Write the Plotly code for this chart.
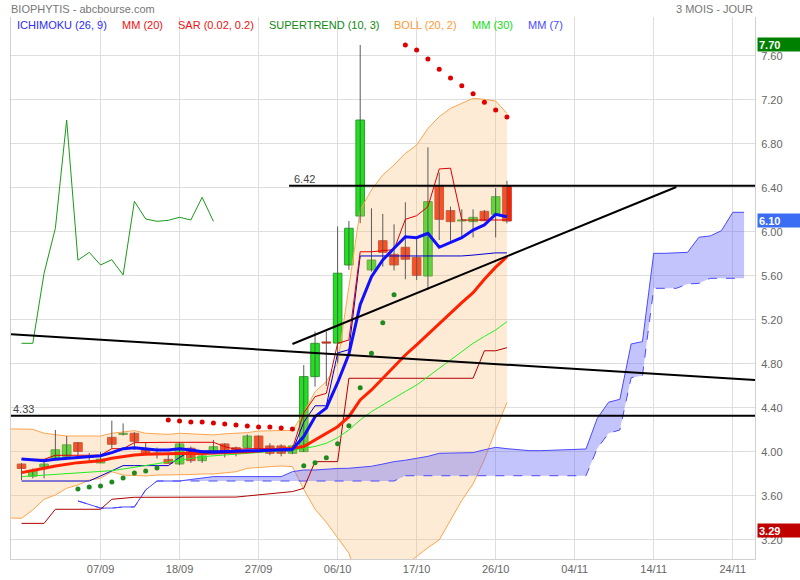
import plotly.graph_objects as go

# ---------------- data ----------------
tick_pos = [7, 14, 21, 28, 35, 42, 49, 56, 63]
tick_labels = ["07/09", "18/09", "27/09", "06/10", "17/10", "26/10", "04/11", "14/11", "24/11"]

open_ = [3.89, 3.78, 3.865, 3.93, 3.96, 4.085, 3.955, 3.90, 4.133, 4.16,
         4.17, 4.024, 3.99, 3.933, 3.891, 4.034, 3.921, 3.988, 4.073, 4.039,
         4.042, 4.145, 4.055, 4.055, 3.988, 4.003, 4.685, 5.00, 4.99, 5.70,
         6.145, 5.655, 5.921, 5.797, 5.861, 5.77, 5.60, 6.412, 6.194, 6.10,
         6.094, 6.188, 6.161, 6.412]
high = [3.90, 3.85, 3.92, 4.20, 4.145, 4.09, 3.99, 4.00, 4.285, 4.26,
        4.18, 4.088, 4.04, 3.99, 4.09, 4.05, 3.97, 4.109, 4.08, 4.05,
        4.16, 4.15, 4.08, 4.07, 4.06, 4.79, 5.094, 5.094, 6.05, 6.10,
        7.70, 6.215, 6.164, 6.07, 6.27, 5.957, 6.77, 6.54, 6.23, 6.206,
        6.206, 6.20, 6.40, 6.466]
low = [3.745, 3.76, 3.76, 3.93, 3.96, 3.96, 3.91, 3.90, 4.03, 4.15,
       4.02, 3.985, 3.94, 3.897, 3.88, 3.90, 3.90, 3.98, 3.951, 3.96,
       4.03, 4.03, 3.97, 3.96, 3.98, 4.00, 4.594, 4.60, 4.806, 5.655,
       6.08, 5.64, 5.685, 5.65, 5.57, 5.564, 5.473, 5.927, 5.92, 5.957,
       5.95, 6.10, 5.95, 6.079]
close = [3.85, 3.83, 3.89, 4.02, 4.065, 4.005, 3.95, 3.935, 4.07, 4.17,
         4.097, 3.988, 3.98, 3.897, 4.073, 3.921, 3.964, 4.048, 3.994, 3.994,
         4.145, 4.033, 3.988, 3.988, 4.055, 4.685, 4.988, 4.99, 5.625, 6.034,
         7.018, 5.745, 5.815, 5.70, 5.752, 5.606, 6.276, 6.115, 6.094, 6.11,
         6.133, 6.103, 6.321, 6.10]

mm7 = [3.936, 3.927, 3.921, 3.933, 3.942, 3.951, 3.957, 3.966, 3.994, 4.03,
       4.039, 4.027, 4.018, 4.018, 4.03, 4.018, 4.003, 3.997, 4.003, 4.003,
       4.012, 4.012, 4.018, 4.024, 4.024, 4.14, 4.321, 4.40, 4.63, 4.89,
       5.34, 5.594, 5.745, 5.852, 5.957, 5.948, 5.988, 5.861, 5.903, 5.948,
       6.018, 6.064, 6.161, 6.139]
mm20 = [3.812, 3.83, 3.852, 3.873, 3.891, 3.903, 3.912, 3.921, 3.942, 3.957,
        3.973, 3.979, 3.982, 3.982, 3.988, 3.988, 3.985, 3.988, 3.994, 3.994,
        4.003, 4.009, 4.018, 4.024, 4.033, 4.05, 4.109, 4.17, 4.23, 4.321,
        4.473, 4.564, 4.67, 4.776, 4.882, 4.973, 5.07, 5.17, 5.261, 5.357,
        5.448, 5.57, 5.68, 5.775]
mm30 = [3.776, 3.782, 3.788, 3.794, 3.80, 3.806, 3.812, 3.822, 3.83, 3.845,
        3.861, 3.879, 3.897, 3.91, 3.927, 3.945, 3.957, 3.965, 3.973, 3.98,
        3.988, 3.995, 4.003, 4.01, 4.018, 4.033, 4.05, 4.079, 4.13, 4.20,
        4.291, 4.367, 4.43, 4.488, 4.55, 4.609, 4.685, 4.76, 4.836, 4.91,
        4.988, 5.05, 5.109, 5.185]

boll_x = list(range(-1, 44))
boll_up = [4.21, 4.21, 4.206, 4.17, 4.155, 4.145, 4.145, 4.145, 4.145, 4.17,
           4.18, 4.194, 4.17, 4.164, 4.16, 4.17, 4.165, 4.16, 4.155, 4.165,
           4.17, 4.176, 4.19, 4.195, 4.195, 4.195, 4.355, 4.548, 4.64, 4.806,
           5.50, 6.20, 6.382, 6.518, 6.609, 6.715, 6.79, 6.942, 7.048, 7.124,
           7.17, 7.215, 7.206, 7.19, 7.079]
boll_low = [3.40, 3.397, 3.473, 3.57, 3.609, 3.67, 3.70, 3.745, 3.761, 3.821,
            3.79, 3.785, 3.782, 3.79, 3.79, 3.79, 3.795, 3.80, 3.80, 3.81,
            3.82, 3.852, 3.86, 3.867, 3.873, 3.867, 3.66, 3.48, 3.36, 3.22,
            3.08, 2.75, 2.70, 2.75, 2.85, 2.97, 3.05, 3.13, 3.20, 3.38,
            3.56, 3.71, 3.93, 4.20, 4.45]

tenkan = [3.933, 3.933, 3.933, 3.97, 3.97, 3.97, 3.97, 3.97, 4.03, 4.03,
          4.085, 4.088, 4.088, 4.088, 4.088, 4.088, 4.088, 4.088, 4.048, 4.024,
          4.03, 4.03, 4.03, 4.02, 4.03, 4.355, 4.503, 4.533, 4.988, 5.018,
          5.82, 5.82, 5.83, 5.84, 6.115, 6.148, 6.23, 6.573, 6.58, 6.109,
          6.109, 6.109, 6.109, 6.109]
kijun = [3.736, 3.736, 3.736, 3.736, 3.736, 3.736, 3.736, 3.782, 3.827, 3.876,
         3.876, 3.876, 3.876, 3.876, 3.95, 4.01, 4.01, 4.01, 4.01, 4.01,
         4.01, 4.01, 4.01, 4.01, 4.01, 4.27, 4.42, 4.42, 4.90, 4.93,
         5.782, 5.782, 5.782, 5.782, 5.782, 5.782, 5.782, 5.782, 5.782, 5.782,
         5.79, 5.80, 5.81, 5.81]
supertrend = [3.351, 3.351, 3.351, 3.479, 3.479, 3.479, 3.479, 3.479, 3.57, 3.58,
              3.588, 3.588, 3.588, 3.588, 3.588, 3.588, 3.588, 3.588, 3.588, 3.59,
              3.60, 3.61, 3.625, 3.633, 3.64, 3.67, 3.912, 3.912, 3.912, 4.67,
              4.67, 4.67, 4.67, 4.67, 4.67, 4.67, 4.67, 4.67, 4.67, 4.67,
              4.67, 4.92, 4.92, 4.948]

chikou = [4.988, 4.988, 5.625, 6.034, 7.018, 5.743, 5.815, 5.70, 5.748, 5.609,
          6.279, 6.118, 6.097, 6.106, 6.134, 6.109, 6.315, 6.097]

cloud_x = list(range(5, 65))
senkou_a = [3.555, 3.52, 3.49, 3.49, 3.50, 3.50, 3.655, 3.736, 3.736, 3.736,
            3.75, 3.765, 3.776, 3.776, 3.776, 3.77, 3.77, 3.77, 3.776, 3.821,
            3.836, 3.836, 3.845, 3.85, 3.852, 3.86, 3.87, 3.89, 3.912, 3.925,
            3.942, 3.96, 3.988, 3.99, 3.99, 3.994, 4.02, 4.042, 4.03, 4.018,
            4.012, 4.012, 4.015, 4.02, 4.025, 4.027, 4.306, 4.452, 4.479, 4.982,
            5.003, 5.806, 5.806, 5.81, 5.815, 5.952, 5.964, 6.012, 6.179, 6.179]
senkou_b = [3.555, 3.52, 3.49, 3.49, 3.50, 3.50, 3.655, 3.736, 3.736, 3.736,
            3.736, 3.736, 3.736, 3.736, 3.736, 3.736, 3.736, 3.736, 3.736, 3.736,
            3.736, 3.736, 3.736, 3.736, 3.736, 3.736, 3.736, 3.736, 3.736, 3.784,
            3.784, 3.784, 3.784, 3.784, 3.784, 3.784, 3.784, 3.784, 3.784, 3.784,
            3.784, 3.784, 3.784, 3.784, 3.784, 3.784, 4.033, 4.17, 4.20, 4.676,
            4.694, 5.488, 5.488, 5.488, 5.527, 5.533, 5.579, 5.579, 5.579, 5.579]

sar_green1_x = list(range(5, 13))
sar_green1 = [3.664, 3.682, 3.691, 3.727, 3.764, 3.809, 3.827, 3.855]
sar_red1_x = list(range(13, 25))
sar_red1 = [4.291, 4.282, 4.273, 4.273, 4.264, 4.255, 4.245, 4.236, 4.227, 4.227, 4.218, 4.209]
sar_green2_x = list(range(25, 34))
sar_green2 = [3.875, 3.903, 3.948, 4.075, 4.239, 4.585, 4.897, 5.175, 5.43]
sar_red2_x = list(range(34, 44))
sar_red2 = [7.70, 7.655, 7.573, 7.48, 7.40, 7.33, 7.257, 7.18, 7.11, 7.045]

level_high = 6.42
level_low = 4.33
support_line = ([24, 58], [4.982, 6.409])
falling_line = ([-0.93, 64.97], [5.07, 4.655])

last_high, last_close, last_low = 7.70, 6.10, 3.29

# ---------------- figure ----------------
X_RANGE = [-0.93, 64.97]
Y_RANGE = [3.027, 7.9545]
FONT = "Liberation Sans, Arial, sans-serif"

n = len(close)
idx = list(range(n))
fig = go.Figure()

# Bollinger band fill
fig.add_trace(go.Scatter(x=boll_x, y=boll_low, mode="lines",
                         line=dict(color="#ffa54f", width=1)))
fig.add_trace(go.Scatter(x=boll_x, y=boll_up, mode="lines", fill="tonexty",
                         fillcolor="rgba(250,190,120,0.30)",
                         line=dict(color="#ffa54f", width=1)))

# Ichimoku cloud
fig.add_trace(go.Scatter(x=cloud_x, y=senkou_b, mode="lines",
                         line=dict(color="#4a4aff", width=1, dash="dash")))
fig.add_trace(go.Scatter(x=cloud_x, y=senkou_a, mode="lines", fill="tonexty",
                         fillcolor="rgba(100,100,250,0.38)",
                         line=dict(color="#4a4aff", width=1)))

# candle wicks
wx, wy = [], []
for i in idx:
    wx += [i, i, None]
    wy += [low[i], high[i], None]
fig.add_trace(go.Scatter(x=wx, y=wy, mode="lines", line=dict(color="#5a5a5a", width=1)))

# candle bodies
up = [i for i in idx if close[i] >= open_[i]]
dn = [i for i in idx if close[i] < open_[i]]
fig.add_trace(go.Bar(x=up, base=[open_[i] for i in up],
                     y=[close[i] - open_[i] for i in up], width=0.76,
                     marker=dict(color="#1fe21f", line=dict(color="#2f9a2f", width=1))))
fig.add_trace(go.Bar(x=dn, base=[close[i] for i in dn],
                     y=[open_[i] - close[i] for i in dn], width=0.76,
                     marker=dict(color="#ff2000", line=dict(color="#b83222", width=1))))

# indicator lines
fig.add_trace(go.Scatter(x=idx, y=supertrend, mode="lines", line=dict(color="#b00000", width=1)))
fig.add_trace(go.Scatter(x=idx, y=kijun, mode="lines", line=dict(color="#0000d0", width=1)))
fig.add_trace(go.Scatter(x=idx, y=tenkan, mode="lines", line=dict(color="#e00000", width=1)))
fig.add_trace(go.Scatter(x=list(range(len(chikou))), y=chikou, mode="lines",
                         line=dict(color="#1a9a1a", width=1)))
fig.add_trace(go.Scatter(x=idx, y=mm30, mode="lines", line=dict(color="#22ee22", width=1)))
fig.add_trace(go.Scatter(x=idx, y=mm20, mode="lines", line=dict(color="#ff2200", width=3)))
fig.add_trace(go.Scatter(x=idx, y=mm7, mode="lines", line=dict(color="#1010ff", width=3)))

# SAR dots
for xs, ys, col in [(sar_green1_x, sar_green1, "#1f8a1f"), (sar_red1_x, sar_red1, "#dd0000"),
                    (sar_green2_x, sar_green2, "#1f8a1f"), (sar_red2_x, sar_red2, "#dd0000")]:
    fig.add_trace(go.Scatter(x=xs, y=ys, mode="markers",
                             marker=dict(color=col, size=5, line=dict(width=0))))

# horizontal levels and trend lines
shapes = [
    dict(type="line", xref="x", yref="y", x0=support_line[0][0] - 0.3, x1=X_RANGE[1],
         y0=level_high, y1=level_high, line=dict(color="black", width=2)),
    dict(type="line", xref="x", yref="y", x0=X_RANGE[0], x1=X_RANGE[1],
         y0=level_low, y1=level_low, line=dict(color="black", width=2)),
    dict(type="line", xref="x", yref="y", x0=support_line[0][0], x1=support_line[0][1],
         y0=support_line[1][0], y1=support_line[1][1], line=dict(color="black", width=2)),
    dict(type="line", xref="x", yref="y", x0=falling_line[0][0], x1=falling_line[0][1],
         y0=falling_line[1][0], y1=falling_line[1][1], line=dict(color="black", width=2)),
]

annotations = [
    dict(x=support_line[0][0] - 0.1, y=level_high, xref="x", yref="y", text="6.42",
         showarrow=False, xanchor="left", yanchor="bottom", yshift=-1, xshift=1,
         font=dict(size=11, color="#444", family=FONT)),
    dict(x=X_RANGE[0], y=level_low, xref="x", yref="y", text="4.33",
         showarrow=False, xanchor="left", yanchor="bottom", yshift=-1, xshift=0,
         font=dict(size=11, color="#444", family=FONT)),
    dict(x=0, y=1.0148, xref="paper", yref="paper", text="BIOPHYTIS - abcbourse.com",
         showarrow=False, xanchor="left", yanchor="middle", xshift=-2,
         font=dict(size=11, color="#777", family=FONT)),
    dict(x=1, y=1.0148, xref="paper", yref="paper", text="3 MOIS - JOUR",
         showarrow=False, xanchor="right", yanchor="middle",
         font=dict(size=11, color="#777", family=FONT)),
]

legend_items = [("ICHIMOKU (26, 9)", "#2b2bff", 15), ("MM (20)", "#ee1111", 120),
                ("SAR (0.02, 0.2)", "#ee1111", 176), ("SUPERTREND (10, 3)", "#118811", 267),
                ("BOLL (20, 2)", "#ff9933", 392), ("MM (30)", "#11dd11", 470),
                ("MM (7)", "#4a4aff", 526)]
for txt, col, px in legend_items:
    annotations.append(dict(x=(px - 11) / 744, y=(559 - 25) / 542, xref="paper", yref="paper",
                            text=txt, showarrow=False, xanchor="left", yanchor="middle",
                            font=dict(size=11, color=col, family=FONT)))

for val, col in [(last_high, "#008000"), (last_close, "#3a6cf4"), (last_low, "#c00000")]:
    annotations.append(dict(x=1.0027, y=val, xref="paper", yref="y", text="<b>%.2f</b>" % val,
                            showarrow=False, xanchor="left", yanchor="middle",
                            bgcolor=col, width=40, height=11, align="left", borderpad=1,
                            font=dict(size=11, color="white", family=FONT)))

fig.update_layout(
    width=800, height=580,
    margin=dict(l=11, r=45, t=17, b=21),
    paper_bgcolor="white", plot_bgcolor="white",
    showlegend=False, hovermode=False, barmode="overlay",
    shapes=shapes, annotations=annotations,
    font=dict(family=FONT, size=11, color="#666"),
    xaxis=dict(range=X_RANGE, tickmode="array", tickvals=tick_pos, ticktext=tick_labels,
               showgrid=True, gridcolor="#dedede", gridwidth=1, zeroline=False,
               showline=True, linecolor="#d0d0d0", linewidth=1, ticks="",
               ticklabelstandoff=0, automargin=False,
               tickfont=dict(size=11, color="#666", family=FONT)),
    yaxis=dict(range=Y_RANGE, side="right", tick0=3.2, dtick=0.4, tickformat=".2f",
               showgrid=True, gridcolor="#dedede", gridwidth=1, zeroline=False,
               showline=True, mirror=True, linecolor="#d0d0d0", linewidth=1, ticks="",
               ticklabelstandoff=3, automargin=False,
               tickfont=dict(size=11, color="#666", family=FONT)),
)

fig.write_html("out.html", config={"displayModeBar": False, "staticPlot": True},
               post_script="document.body.style.margin='0px';document.body.style.overflow='hidden';")
